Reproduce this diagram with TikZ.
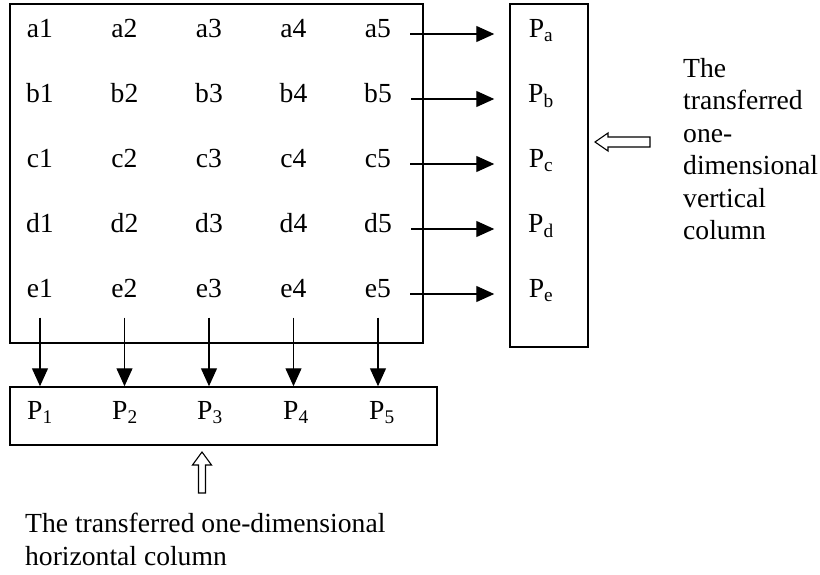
\documentclass[tikz,border=0pt]{standalone}
\usepackage{fontspec}
\setmainfont{Liberation Serif}
\usetikzlibrary{arrows.meta}

\begin{document}
\begin{tikzpicture}[
  x=1pt, y=-1pt,
  font=\fontsize{27.6}{32.5}\selectfont,
  cell/.style={inner sep=0pt, text height=.68em, text depth=0pt},
  frame/.style={draw, line width=1.5pt, inner sep=0pt},
  flow/.style={-{Triangle[length=18pt, width=16pt]}, line width=1.3pt},
  hollow/.style={draw, line width=1.1pt, line join=miter}
]
\useasboundingbox (0,0) rectangle (820,575);

% the three frames
\node[frame, minimum width=413pt, minimum height=339pt] (grid) at (216.5,173.5) {};
\node[frame, minimum width=78pt, minimum height=343pt] (vcol) at (549,175.5) {};
\node[frame, minimum width=427pt, minimum height=58pt] (hrow) at (223.5,416) {};

% 5x5 entries
\foreach \r [count=\j] in {a,b,c,d,e}
  \foreach \c in {1,...,5}
    \node[cell] (\r\c) at ({40+84.5*(\c-1)}, {34+65*(\j-1)}) {\r\c};

% vertical column
\foreach \r [count=\j] in {a,b,c,d,e} {
  \node[cell] (P\r) at (541, {34+65*(\j-1)}) {P\textsubscript{\r}};
  \draw[flow, shorten <=19pt, shorten >=15pt] (\r5) -- (\r5 -| vcol.west);
}

% horizontal column
\foreach \c/\px in {1/40,2/125,3/210,4/296,5/382} {
  \node[cell] (P\c) at (\px,416) {P\textsubscript{\c}};
  \draw[flow, shorten <=20pt] (e\c) -- (e\c |- hrow.north);
}

% captions with their outline arrows
\draw[hollow] (595,142) -- (608,133) -- (608,137) -- (650,137) -- (650,147)
  -- (608,147) -- (608,151) -- cycle;
\node[anchor=north west, align=left, inner sep=0pt] (vlabel) at (683,58)
  {The\\transferred\\one-\\dimensional\\vertical\\column};

\draw[hollow] (202,452) -- (211.5,465) -- (205.5,465) -- (205.5,493) -- (198.5,493)
  -- (198.5,465) -- (192.5,465) -- cycle;
\node[anchor=north west, align=left, inner sep=0pt] (hlabel) at (25,513)
  {The transferred one-dimensional\\horizontal column};
\end{tikzpicture}
\end{document}
